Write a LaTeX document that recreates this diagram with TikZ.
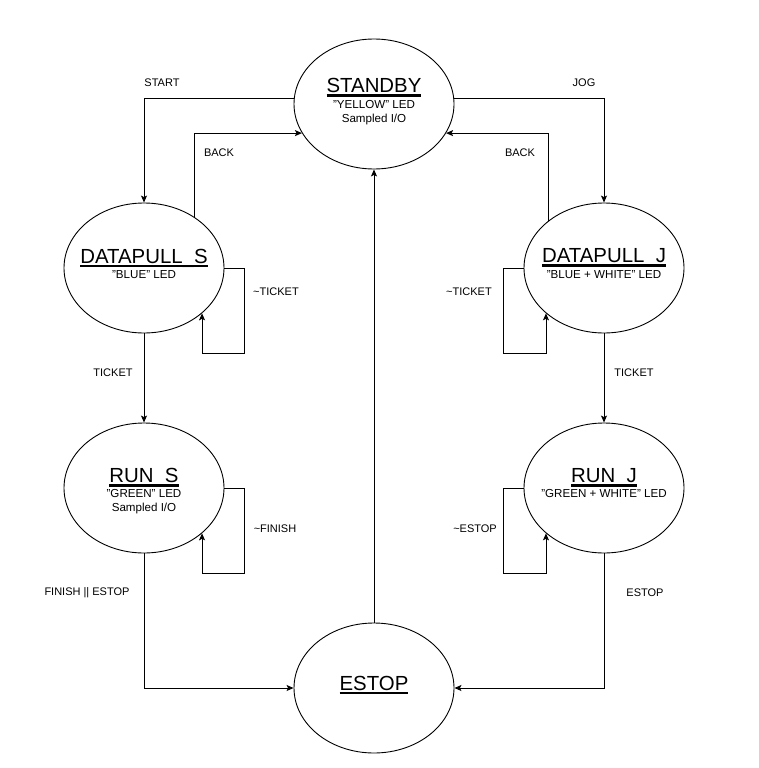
\documentclass[tikz,border=0pt]{standalone}
\usepackage{fontspec}
\setmainfont{Liberation Sans}
\usetikzlibrary{arrows.meta, positioning, shapes.geometric}

\newcommand{\stitle}[1]{\setbox0\hbox{#1}\dp0=0pt\vtop{\box0\kern1.9pt\hrule height 2.3pt}}

\begin{document}
\begin{tikzpicture}[x=1pt, y=-1pt,
    state/.style={draw, ellipse, minimum width=160pt, minimum height=130pt, inner sep=0pt, line width=0.9pt},
    ttl/.style={inner sep=0pt, anchor=base, font=\fontsize{20.4}{24}\selectfont},
    stxt/.style={inner sep=0pt, anchor=base, font=\fontsize{11.6}{14}\selectfont},
    lbl/.style={font=\fontsize{11}{13}\selectfont, inner sep=0pt},
    edge/.style={draw, line width=0.9pt, -{Stealth[length=7pt, width=6pt, inset=1.5pt]}}]
    \useasboundingbox (0,0) rectangle (759,768);

    % states
    \node[state] (sb) at (374,104) {};
    \node[state] (dps) at (144,268) {};
    \node[state] (dpj) at (604,268) {};
    \node[state] (rs) at (144,488) {};
    \node[state] (rj) at (604,488) {};
    \node[state] (es) at (374,688) {};

    % state texts
    \node[ttl] (sbt) at (374,92.3) {\stitle{STANDBY}};
    \node[stxt] (sbs) at (374,108.2) {"YELLOW" LED};
    \node[stxt] (sbio) at (374,122.2) {Sampled I/O};
    \node[ttl] (dpst) at (144,263) {\stitle{DATAPULL\_S}};
    \node[stxt] (dpss) at (144,278.3) {"BLUE" LED};
    \node[ttl] (dpjt) at (604,262.5) {\stitle{DATAPULL\_J}};
    \node[stxt] (dpjs) at (604,278) {"BLUE + WHITE" LED};
    \node[ttl] (rst) at (144,482.3) {\stitle{RUN\_S}};
    \node[stxt] (rss) at (144,497.3) {"GREEN" LED};
    \node[stxt] (rsio) at (144,511) {Sampled I/O};
    \node[ttl] (rjt) at (604,482.3) {\stitle{RUN\_J}};
    \node[stxt] (rjs) at (604,497.3) {"GREEN + WHITE" LED};
    \node[ttl] (est) at (374,690) {\stitle{ESTOP}};

    % transitions
    \draw[edge] (sb.176) -| (dps.north);
    \draw[edge] (dps.45) |- (sb.202);
    \draw[edge] (sb.4) -| (dpj.north);
    \draw[edge] (dpj.140) |- (sb.338);
    \draw[edge] (dps.east) -- ++(20,0) -- ++(0,85) -| (dps.322);
    \draw[edge] (dpj.west) -- ++(-20,0) -- ++(0,85) -| (dpj.218);
    \draw[edge] (dps.south) -- (rs.north);
    \draw[edge] (dpj.south) -- (rj.north);
    \draw[edge] (rs.east) -- ++(20,0) -- ++(0,85) -| (rs.322);
    \draw[edge] (rj.west) -- ++(-20,0) -- ++(0,85) -| (rj.218);
    \draw[edge] (rs.south) |- (es.west);
    \draw[edge] (rj.south) |- (es.east);
    \draw[edge] (es.north) -- (sb.south);

    % labels
    \node[lbl] (lstart) at (162,83) {START};
    \node[lbl] (ljog) at (584,83) {JOG};
    \node[lbl] (lbacks) at (219,153) {BACK};
    \node[lbl] (lbackj) at (520,153) {BACK};
    \node[lbl] (lnts) at (276,292) {\textasciitilde TICKET};
    \node[lbl] (lntj) at (469,292) {\textasciitilde TICKET};
    \node[lbl] (lts) at (113,373) {TICKET};
    \node[lbl] (ltj) at (634,373) {TICKET};
    \node[lbl] (lnf) at (275,529) {\textasciitilde FINISH};
    \node[lbl] (lne) at (475,529) {\textasciitilde ESTOP};
    \node[lbl] (lfe) at (87,593) {FINISH || ESTOP};
    \node[lbl] (lej) at (645,593) {ESTOP};
\end{tikzpicture}
\end{document}
